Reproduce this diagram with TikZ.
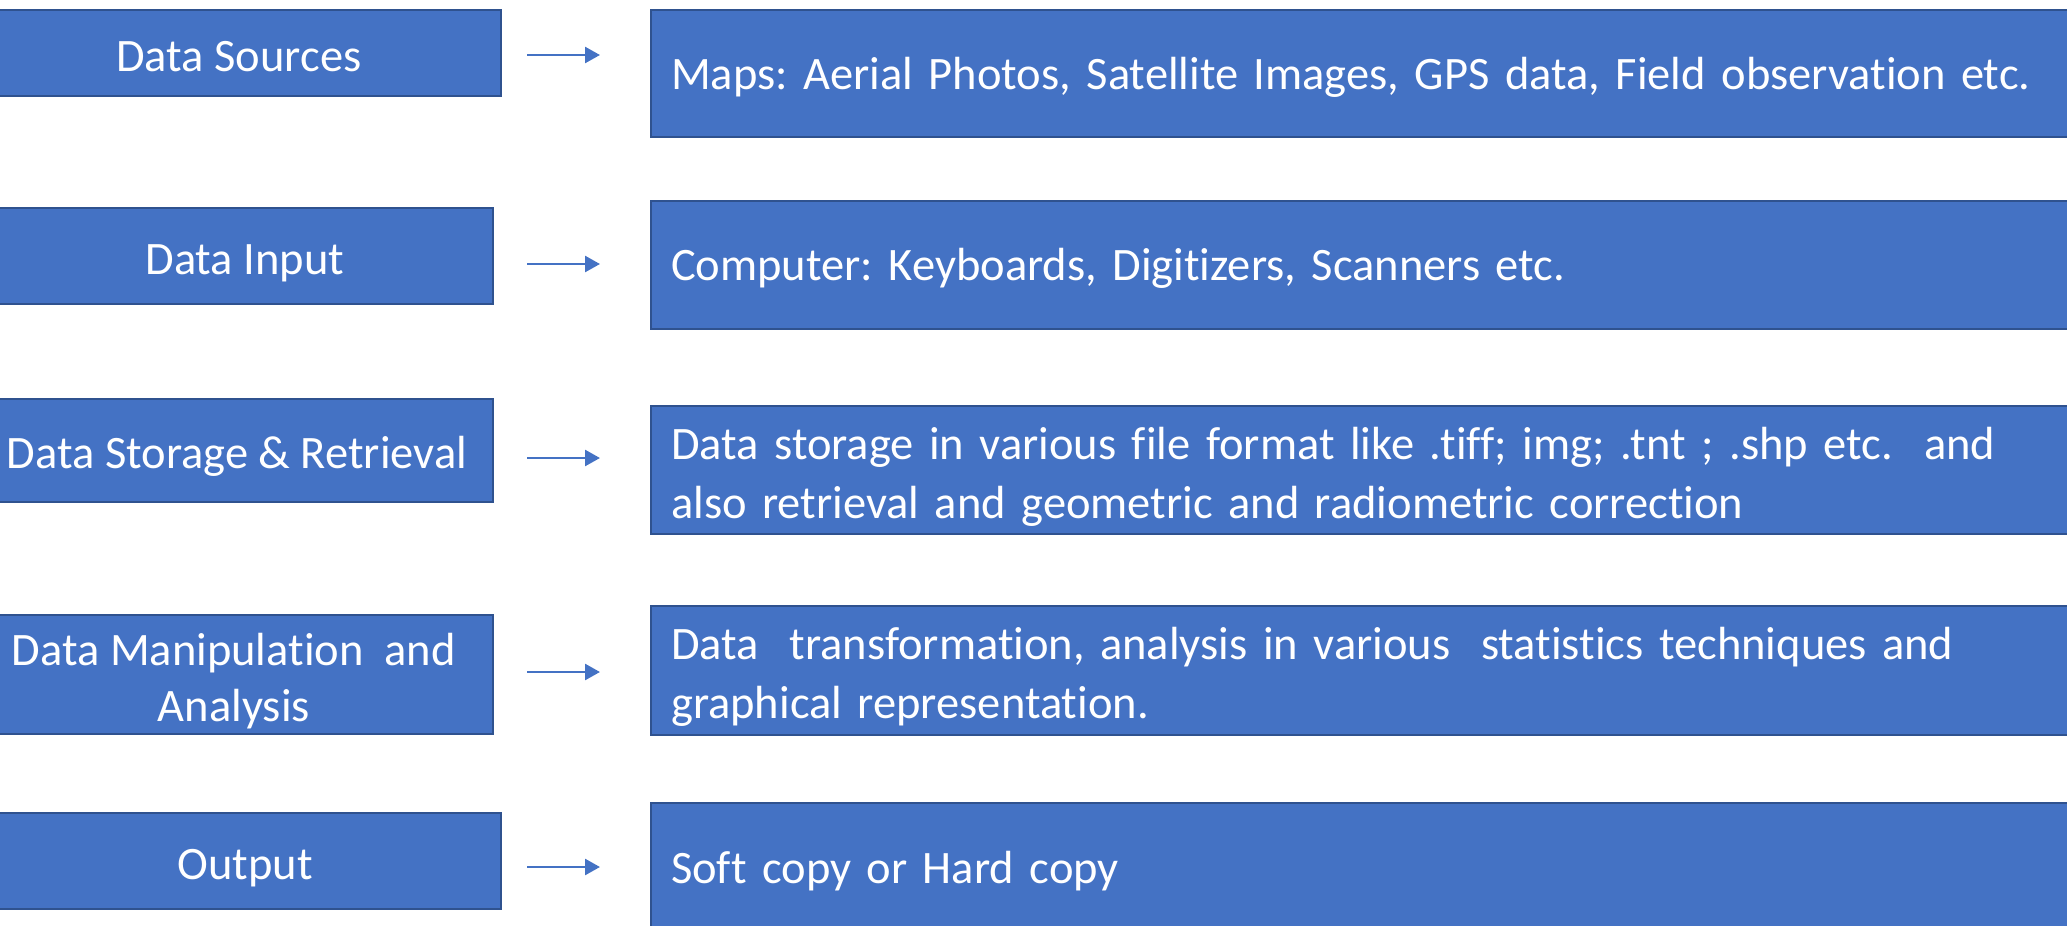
\documentclass[tikz,border=0pt]{standalone}
\usepackage{fontspec}
\setmainfont{Carlito}[Ligatures=NoCommon]
\usetikzlibrary{arrows.meta}
\frenchspacing
\definecolor{boxfill}{HTML}{4472C4}
\definecolor{boxline}{HTML}{2F528F}
% extra room above the first of two lines
\newcommand{\toproom}{\rule{0pt}{45pt}}
\tikzset{
  stage/.style={draw=boxline, line width=2.2pt, fill=boxfill, text=white,
    anchor=north east, align=center, inner sep=0pt,
    font=\fontsize{46.5}{56}\selectfont},
  detail/.style={draw=boxline, line width=2.2pt, fill=boxfill, text=white,
    anchor=north west, align=left, inner xsep=20pt, inner ysep=0pt,
    minimum width=1500pt, text width=1460pt,
    font=\fontsize{46.5}{59}\selectfont},
  oneline/.style={text height=36pt, text depth=0pt},
  onelineb/.style={text height=31pt, text depth=0pt},
  flow/.style={draw=boxfill, line width=2.6pt,
    -{Triangle[length=15pt,width=16pt]}}
}
\begin{document}
\begin{tikzpicture}[x=1pt,y=1pt]
\useasboundingbox (0,0) rectangle (2067,-926);

% stages of the workflow (left column)
\node[stage, oneline, minimum width=524pt, minimum height=86pt] (s1) at (502,-9) {Data Sources};
\node[stage, oneline, minimum width=496pt, minimum height=96pt] (s2) at (494,-207) {Data Input};
\node[stage, oneline, minimum width=512pt, minimum height=103pt] (s3) at (494,-398) {Data Storage \& Retrieval};
\node[stage, minimum width=518pt, minimum height=119pt] (s4) at (494,-614) {\toproom Data Manipulation\ \ and\\Analysis};
\node[stage, oneline, minimum width=511pt, minimum height=96pt] (s5) at (502,-812) {Output};

% descriptions (right column)
\node[detail, onelineb, minimum height=127pt] (d1) at (650,-9) {Maps: Aerial Photos, Satellite Images, GPS data, Field observation etc.};
\node[detail, onelineb, minimum height=128pt] (d2) at (650,-200) {Computer: Keyboards, Digitizers, Scanners etc.};
\node[detail, minimum height=128pt] (d3) at (650,-405) {\toproom Data storage in various file format like .tiff; img; .tnt ; .shp etc.\ \ and\\also retrieval and geometric and radiometric correction};
\node[detail, minimum height=129pt] (d4) at (650,-605) {\toproom Data\ \ transformation, analysis in various\ \ statistics techniques and\\graphical representation.};
\node[detail, oneline, minimum height=125pt] (d5) at (650,-802) {Soft copy or Hard copy};

% arrow end points
\coordinate (a1) at (527,-55);  \coordinate (b1) at (600,-55);
\coordinate (a2) at (527,-264); \coordinate (b2) at (600,-264);
\coordinate (a3) at (527,-458); \coordinate (b3) at (600,-458);
\coordinate (a4) at (527,-672); \coordinate (b4) at (600,-672);
\coordinate (a5) at (527,-867); \coordinate (b5) at (600,-867);

\foreach \i in {1,...,5} \draw[flow] (a\i) -- (b\i);
\end{tikzpicture}
\end{document}
